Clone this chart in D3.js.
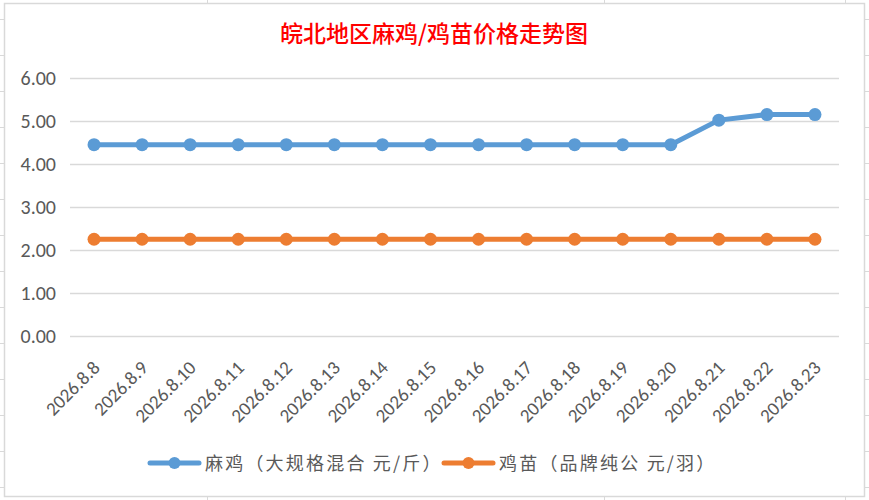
<!DOCTYPE html>
<html>
<head>
<meta charset="utf-8">
<script src="https://cdn.jsdelivr.net/npm/d3@7"></script>
<style>
  body { margin: 0; background: #fff; }
  svg { display: block; }
  text { font-family: Calibri, Carlito, "Liberation Sans", "Noto Sans CJK SC", sans-serif; }
</style>
</head>
<body>
<svg id="chart"></svg>
<script>
const dates = ['2026.8.8', '2026.8.9', '2026.8.10', '2026.8.11', '2026.8.12', '2026.8.13', '2026.8.14', '2026.8.15',
  '2026.8.16', '2026.8.17', '2026.8.18', '2026.8.19', '2026.8.20', '2026.8.21', '2026.8.22', '2026.8.23'];
const maji = [4.45, 4.45, 4.45, 4.45, 4.45, 4.45, 4.45, 4.45, 4.45, 4.45, 4.45, 4.45, 4.45, 5.02, 5.15, 5.15];
const jimiao = [2.25, 2.25, 2.25, 2.25, 2.25, 2.25, 2.25, 2.25, 2.25, 2.25, 2.25, 2.25, 2.25, 2.25, 2.25, 2.25];
const yTicks = [0, 1, 2, 3, 4, 5, 6];
const seriesNames = ['麻鸡（大规格混合 元/斤）', '鸡苗（品牌纯公 元/羽）'];
const title = '皖北地区麻鸡/鸡苗价格走势图';

const width = 869;
const height = 500;
const colors = ['#5b9bd5', '#ed7d31'];

const svg = d3.select('#chart').attr('width', width).attr('height', height);

// spreadsheet cells behind the chart
const sheet = svg.append('g').attr('stroke', '#d9d9d9').attr('stroke-width', 1);
[207, 604, 845].forEach((x) => sheet.append('line').attr('x1', x + 0.5).attr('x2', x + 0.5).attr('y1', 0).attr('y2', height));
d3.range(19, height, 36).forEach((y) => sheet.append('line').attr('x1', 0).attr('x2', width).attr('y1', y + 0.5).attr('y2', y + 0.5));

// chart box
svg.append('rect')
  .attr('x', 4.5).attr('y', 3.5)
  .attr('width', 860).attr('height', 493)
  .attr('fill', '#fff')
  .attr('stroke', '#d9d9d9')
  .attr('stroke-width', 1.5);

const area = { left: 70, right: 839, top: 78, bottom: 336 };

const x = d3.scaleBand().domain(dates).range([area.left, area.right]);
const y = d3.scaleLinear().domain([0, 6]).range([area.bottom, area.top]);

// title
svg.append('text')
  .attr('x', 434).attr('y', 42)
  .attr('text-anchor', 'middle')
  .attr('fill', '#ff0000')
  .style('font-family', '"Noto Sans CJK SC", sans-serif')
  .style('font-weight', 500)
  .style('font-size', '23px')
  .text(title);

// gridlines
svg.append('g')
  .attr('transform', `translate(${area.left},0)`)
  .call(d3.axisLeft(y).tickValues(yTicks).tickSize(-(area.right - area.left)).tickFormat(''))
  .call((g) => g.select('.domain').remove())
  .call((g) => g.selectAll('line').attr('stroke', '#d9d9d9').attr('stroke-width', 1.3));

// y axis labels
svg.append('g')
  .attr('transform', `translate(${area.left},0)`)
  .call(d3.axisLeft(y).tickValues(yTicks).tickSize(0).tickPadding(14).tickFormat(d3.format('.2f')))
  .call((g) => g.select('.domain').remove())
  .call((g) => g.selectAll('text').attr('fill', '#595959').style('font-size', '20px'));

// x axis labels
svg.append('g')
  .attr('transform', `translate(0,${area.bottom})`)
  .call(d3.axisBottom(x).tickSize(0).tickPadding(0))
  .call((g) => g.select('.domain').remove())
  .call((g) => g.selectAll('text')
    .attr('fill', '#595959')
    .style('font-size', '19px')
    .attr('text-anchor', 'end')
    .attr('dy', '0')
    .attr('transform', 'translate(7,33) rotate(-45)'));

const cx = (i) => x(dates[i]) + x.bandwidth() / 2;
const line = d3.line().x((d, i) => cx(i)).y((d) => y(d));

[maji, jimiao].forEach((values, k) => {
  const g = svg.append('g');
  g.append('path')
    .datum(values)
    .attr('d', line)
    .attr('fill', 'none')
    .attr('stroke', colors[k])
    .attr('stroke-width', 5)
    .attr('stroke-linejoin', 'round')
    .attr('stroke-linecap', 'round');
  g.selectAll('circle')
    .data(values)
    .join('circle')
    .attr('cx', (d, i) => cx(i))
    .attr('cy', (d) => y(d))
    .attr('r', 6.5)
    .attr('fill', colors[k]);
});

// legend
const legendX = [150, 444];
seriesNames.forEach((name, k) => {
  const g = svg.append('g').attr('transform', `translate(${legendX[k]},463)`);
  g.append('line').attr('x1', 0).attr('x2', 49).attr('y1', 0).attr('y2', 0)
    .attr('stroke', colors[k]).attr('stroke-width', 5).attr('stroke-linecap', 'round');
  g.append('circle').attr('cx', 24.5).attr('cy', 0).attr('r', 6).attr('fill', colors[k]);
  g.append('text').attr('x', 55).attr('y', 7)
    .attr('fill', '#595959')
    .style('font-family', '"Noto Sans CJK SC", sans-serif')
    .style('font-size', '18px')
    .style('letter-spacing', '2.2px')
    .text(name);
});
</script>
</body>
</html>
